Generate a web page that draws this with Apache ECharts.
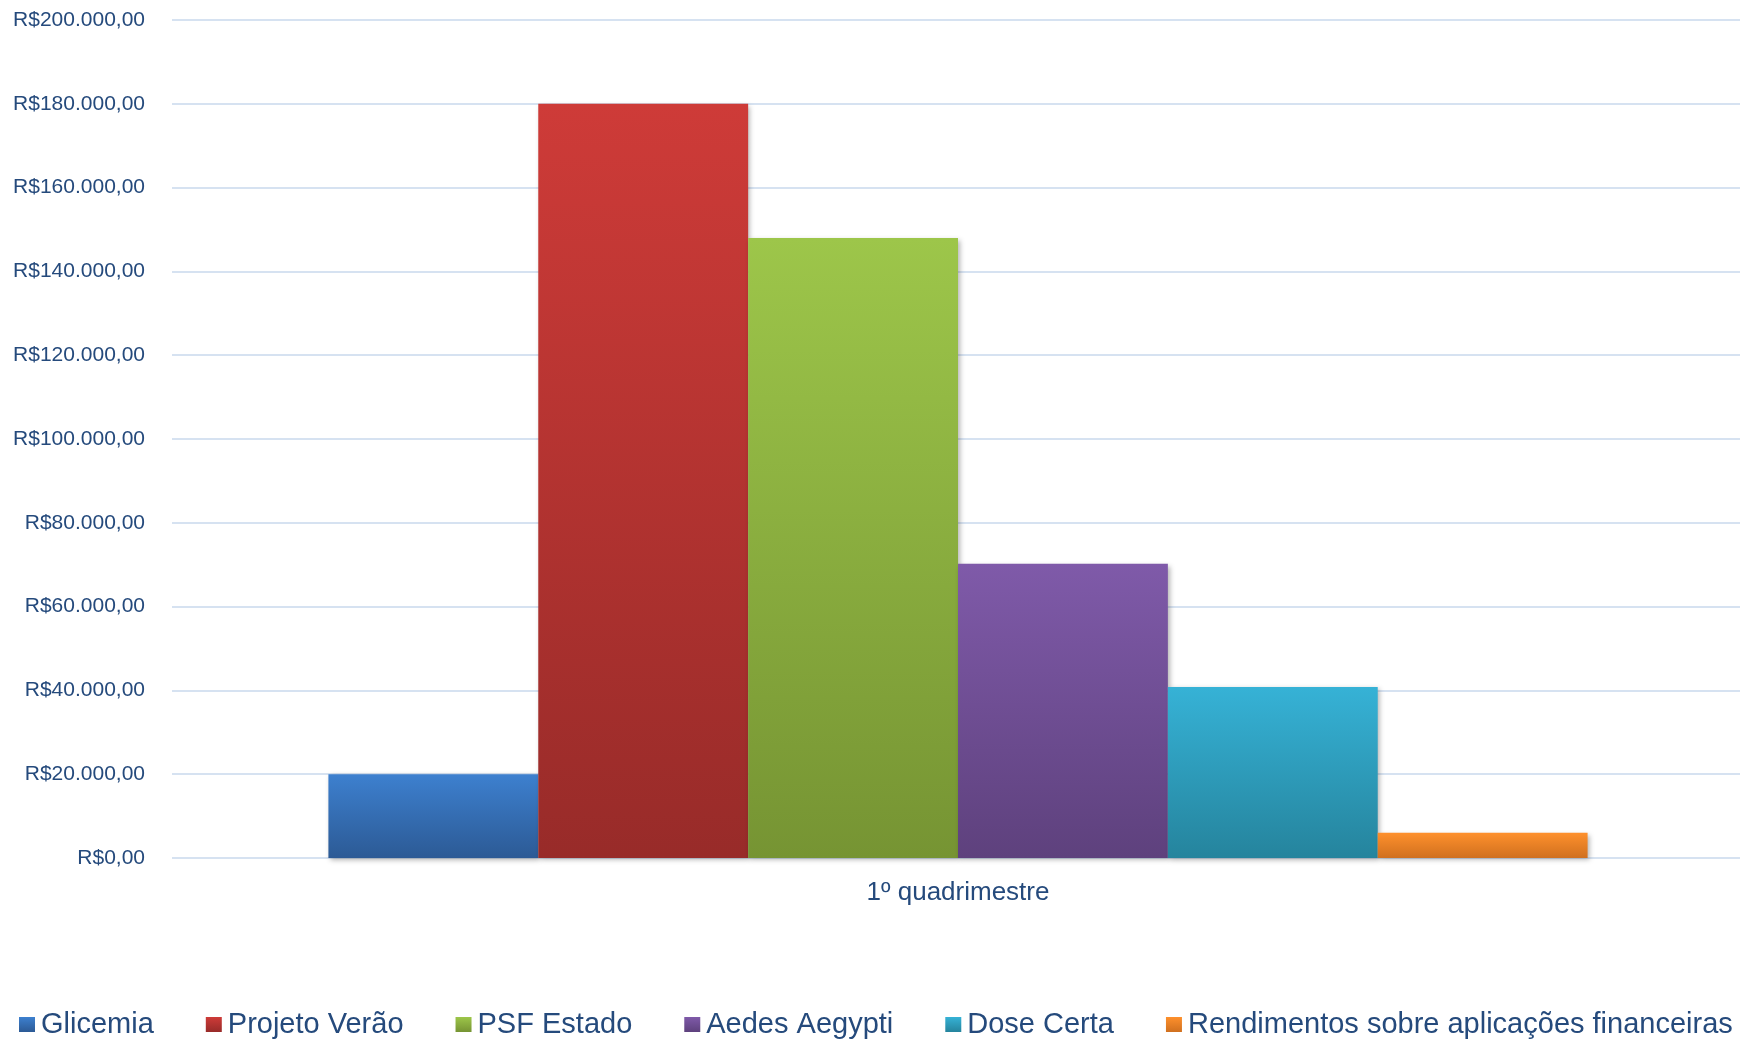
<!DOCTYPE html>
<html>
<head>
<meta charset="utf-8">
<script src="https://cdn.jsdelivr.net/npm/echarts@6/dist/echarts.min.js"></script>
<style>
  html, body { margin: 0; padding: 0; background: #ffffff; }
  #chart { width: 1740px; height: 1040px; }
</style>
</head>
<body>
<div id="chart"></div>
<script>
// ---- data ----
var categories = ['1º quadrimestre'];
var seriesNames = ['Glicemia', 'Projeto Verão', 'PSF Estado', 'Aedes Aegypti', 'Dose Certa', 'Rendimentos sobre aplicações financeiras'];
var glicemia = [20000];
var projetoVerao = [180000];
var psfEstado = [148000];
var aedesAegypti = [70200];
var doseCerta = [40800];
var rendimentos = [6000];
var yTicks = [0, 20000, 40000, 60000, 80000, 100000, 120000, 140000, 160000, 180000, 200000];

// ---- styles ----
var gradients = [
  ['#3d80cf', '#2c5a95'],
  ['#ce3b38', '#982b29'],
  ['#9dc64a', '#769433'],
  ['#7f5aa9', '#5e417d'],
  ['#36b2d6', '#25849d'],
  ['#fe902c', '#d0701f']
];
var seriesValues = [glicemia, projetoVerao, psfEstado, aedesAegypti, doseCerta, rendimentos];
var textColor = '#254a7c';
var fontFamily = "'Liberation Sans', Arial, sans-serif";

function brl(v) {
  var s = Math.round(v).toString().replace(/\B(?=(\d{3})+(?!\d))/g, '.');
  return 'R$' + s + ',00';
}

var series = seriesNames.map(function (name, i) {
  return {
    name: name,
    type: 'bar',
    data: seriesValues[i],
    barGap: '0%',
    barCategoryGap: '19.9%',
    itemStyle: {
      color: {
        type: 'linear', x: 0, y: 0, x2: 0, y2: 1,
        colorStops: [
          { offset: 0, color: gradients[i][0] },
          { offset: 1, color: gradients[i][1] }
        ]
      },
      shadowColor: 'rgba(0,0,0,0.3)',
      shadowBlur: 5,
      shadowOffsetX: 2,
      shadowOffsetY: 2
    },
    emphasis: { disabled: true }
  };
});

var chart = echarts.init(document.getElementById('chart'), null, { renderer: 'canvas' });
chart.setOption({
  animation: false,
  backgroundColor: '#ffffff',
  textStyle: { fontFamily: fontFamily },
  grid: {
    left: 172, right: -4, top: 20, bottom: 182,
    containLabel: false,
    outerBoundsMode: 'none'
  },
  legend: {
    left: 19,
    top: 1010,
    padding: 0,
    itemGap: 52,
    itemWidth: 16,
    itemHeight: 15,
    icon: 'rect',
    itemStyle: { shadowBlur: 0, shadowOffsetX: 0, shadowOffsetY: 0 },
    textStyle: { fontSize: 29, color: textColor, fontFamily: fontFamily, padding: [0, 0, 0, 1] },
    data: seriesNames
  },
  xAxis: {
    type: 'category',
    data: categories,
    axisLine: { show: false },
    axisTick: { show: false },
    axisLabel: { fontSize: 26, color: textColor, margin: 22, fontFamily: fontFamily },
    splitLine: { show: false }
  },
  yAxis: {
    type: 'value',
    min: yTicks[0],
    max: yTicks[yTicks.length - 1],
    interval: yTicks[1] - yTicks[0],
    axisLine: { show: false },
    axisTick: { show: false },
    axisLabel: {
      fontSize: 21, color: textColor, margin: 27, fontFamily: fontFamily,
      formatter: function (v) { return brl(v); }
    },
    splitLine: { lineStyle: { color: '#d6e2f1', width: 2 } }
  },
  series: series
});
</script>
</body>
</html>
